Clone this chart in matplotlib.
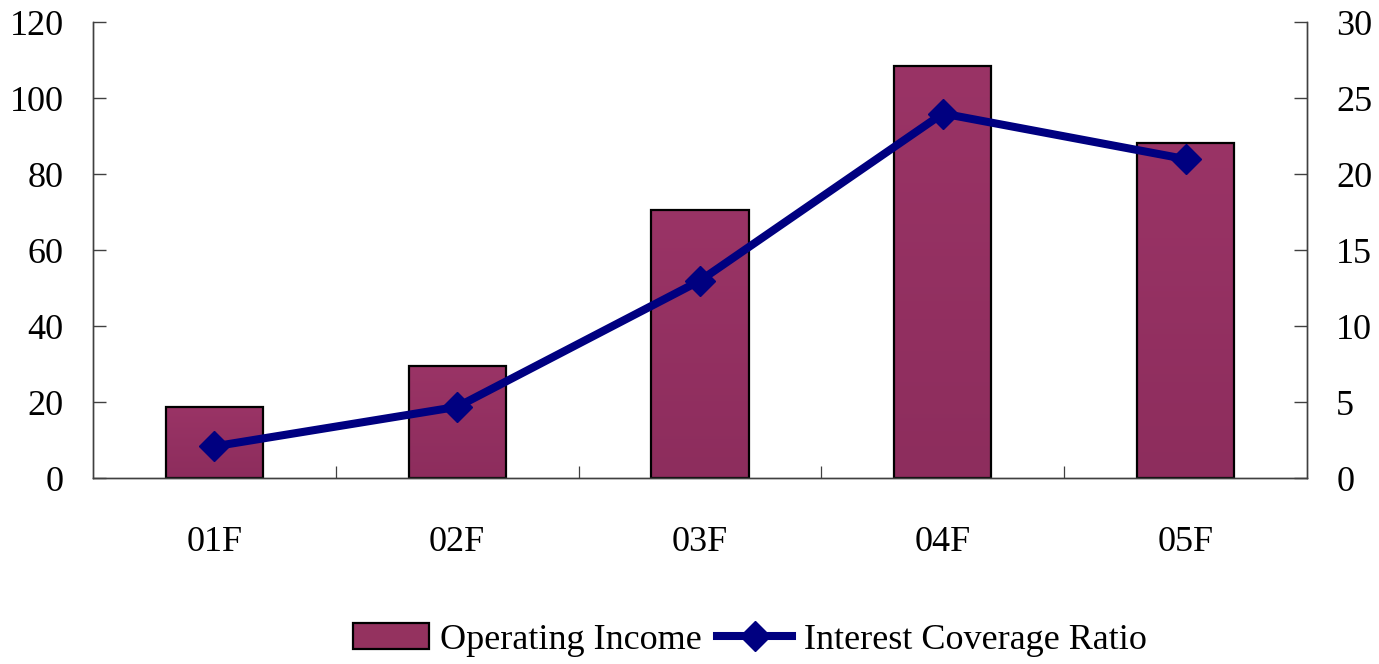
import matplotlib
matplotlib.use("Agg")
import matplotlib.pyplot as plt
from matplotlib.colors import LinearSegmentedColormap
import numpy as np

categories = ["01F", "02F", "03F", "04F", "05F"]
operating_income = [18.8, 29.6, 70.6, 108.5, 88.2]
interest_coverage = [2.1, 4.7, 13.0, 24.0, 21.0]
left_ticks = [0, 20, 40, 60, 80, 100, 120]
right_ticks = [0, 5, 10, 15, 20, 25, 30]

plt.rcParams["font.family"] = ["Liberation Serif", "DejaVu Serif"]

fig = plt.figure(figsize=(13.79, 6.64), dpi=100)
ax = fig.add_axes([0.0674, 0.2797, 0.8804, 0.6867])
ax2 = ax.twinx()

x = np.arange(len(categories))
bar_width = 0.4
bars = ax.bar(x, operating_income, width=bar_width, color="#94325F", edgecolor="black",
              linewidth=1.6, label="Operating Income", zorder=2)

# subtle vertical shading inside each bar
shade = LinearSegmentedColormap.from_list("shade", ["#8D2D5D", "#9A3466"])
grad = np.linspace(0, 1, 256).reshape(-1, 1)
for rect in bars:
    rect.set_facecolor("none")
    bx, by = rect.get_x(), rect.get_y()
    bw, bh = rect.get_width(), rect.get_height()
    im = ax.imshow(grad, cmap=shade, origin="lower", aspect="auto",
                   extent=(bx, bx + bw, by, by + bh), zorder=1.9, interpolation="bilinear")
    im.set_clip_path(rect)

line, = ax2.plot(x, interest_coverage, color="#000080", linewidth=5.8, marker="D",
                 markersize=15, label="Interest Coverage Ratio", zorder=3)

ax.set_xlim(-0.5, len(categories) - 0.5)
ax.set_ylim(0, 120)
ax2.set_ylim(0, 30)
ax.set_yticks(left_ticks)
ax2.set_yticks(right_ticks)

ax.set_xticks(x)
ax.set_xticklabels(categories)
ax.set_xticks(np.arange(0.5, len(categories) - 1, 1.0), minor=True)
ax.tick_params(axis="x", which="major", length=0, pad=34, labelsize=26)
ax.tick_params(axis="x", which="minor", direction="in", length=9, width=0.9, color="#404040")
ax.tick_params(axis="y", direction="in", length=9.5, width=1.0, color="#404040",
               pad=21, labelsize=26)
ax2.tick_params(axis="y", direction="in", length=9.5, width=1.0, color="#404040",
                pad=21, labelsize=26)

for a in (ax, ax2):
    a.spines["top"].set_visible(False)
    for s in ("left", "right", "bottom"):
        a.spines[s].set_color("#404040")
        a.spines[s].set_linewidth(1.0)

ax2.set_zorder(ax.get_zorder() + 1)
ax2.patch.set_visible(False)

legend_patch = plt.Rectangle((0, 0), 1, 1, facecolor="#94325F", edgecolor="black", linewidth=1.6)
fig.legend([legend_patch, line], ["Operating Income", "Interest Coverage Ratio"],
           loc="center", bbox_to_anchor=(750 / 1379, 1 - 640 / 664), ncol=2,
           frameon=False, fontsize=26, handlelength=2.1, handletextpad=0.33,
           columnspacing=0.4, handleheight=0.7)

fig.savefig("out.png", dpi=100)
